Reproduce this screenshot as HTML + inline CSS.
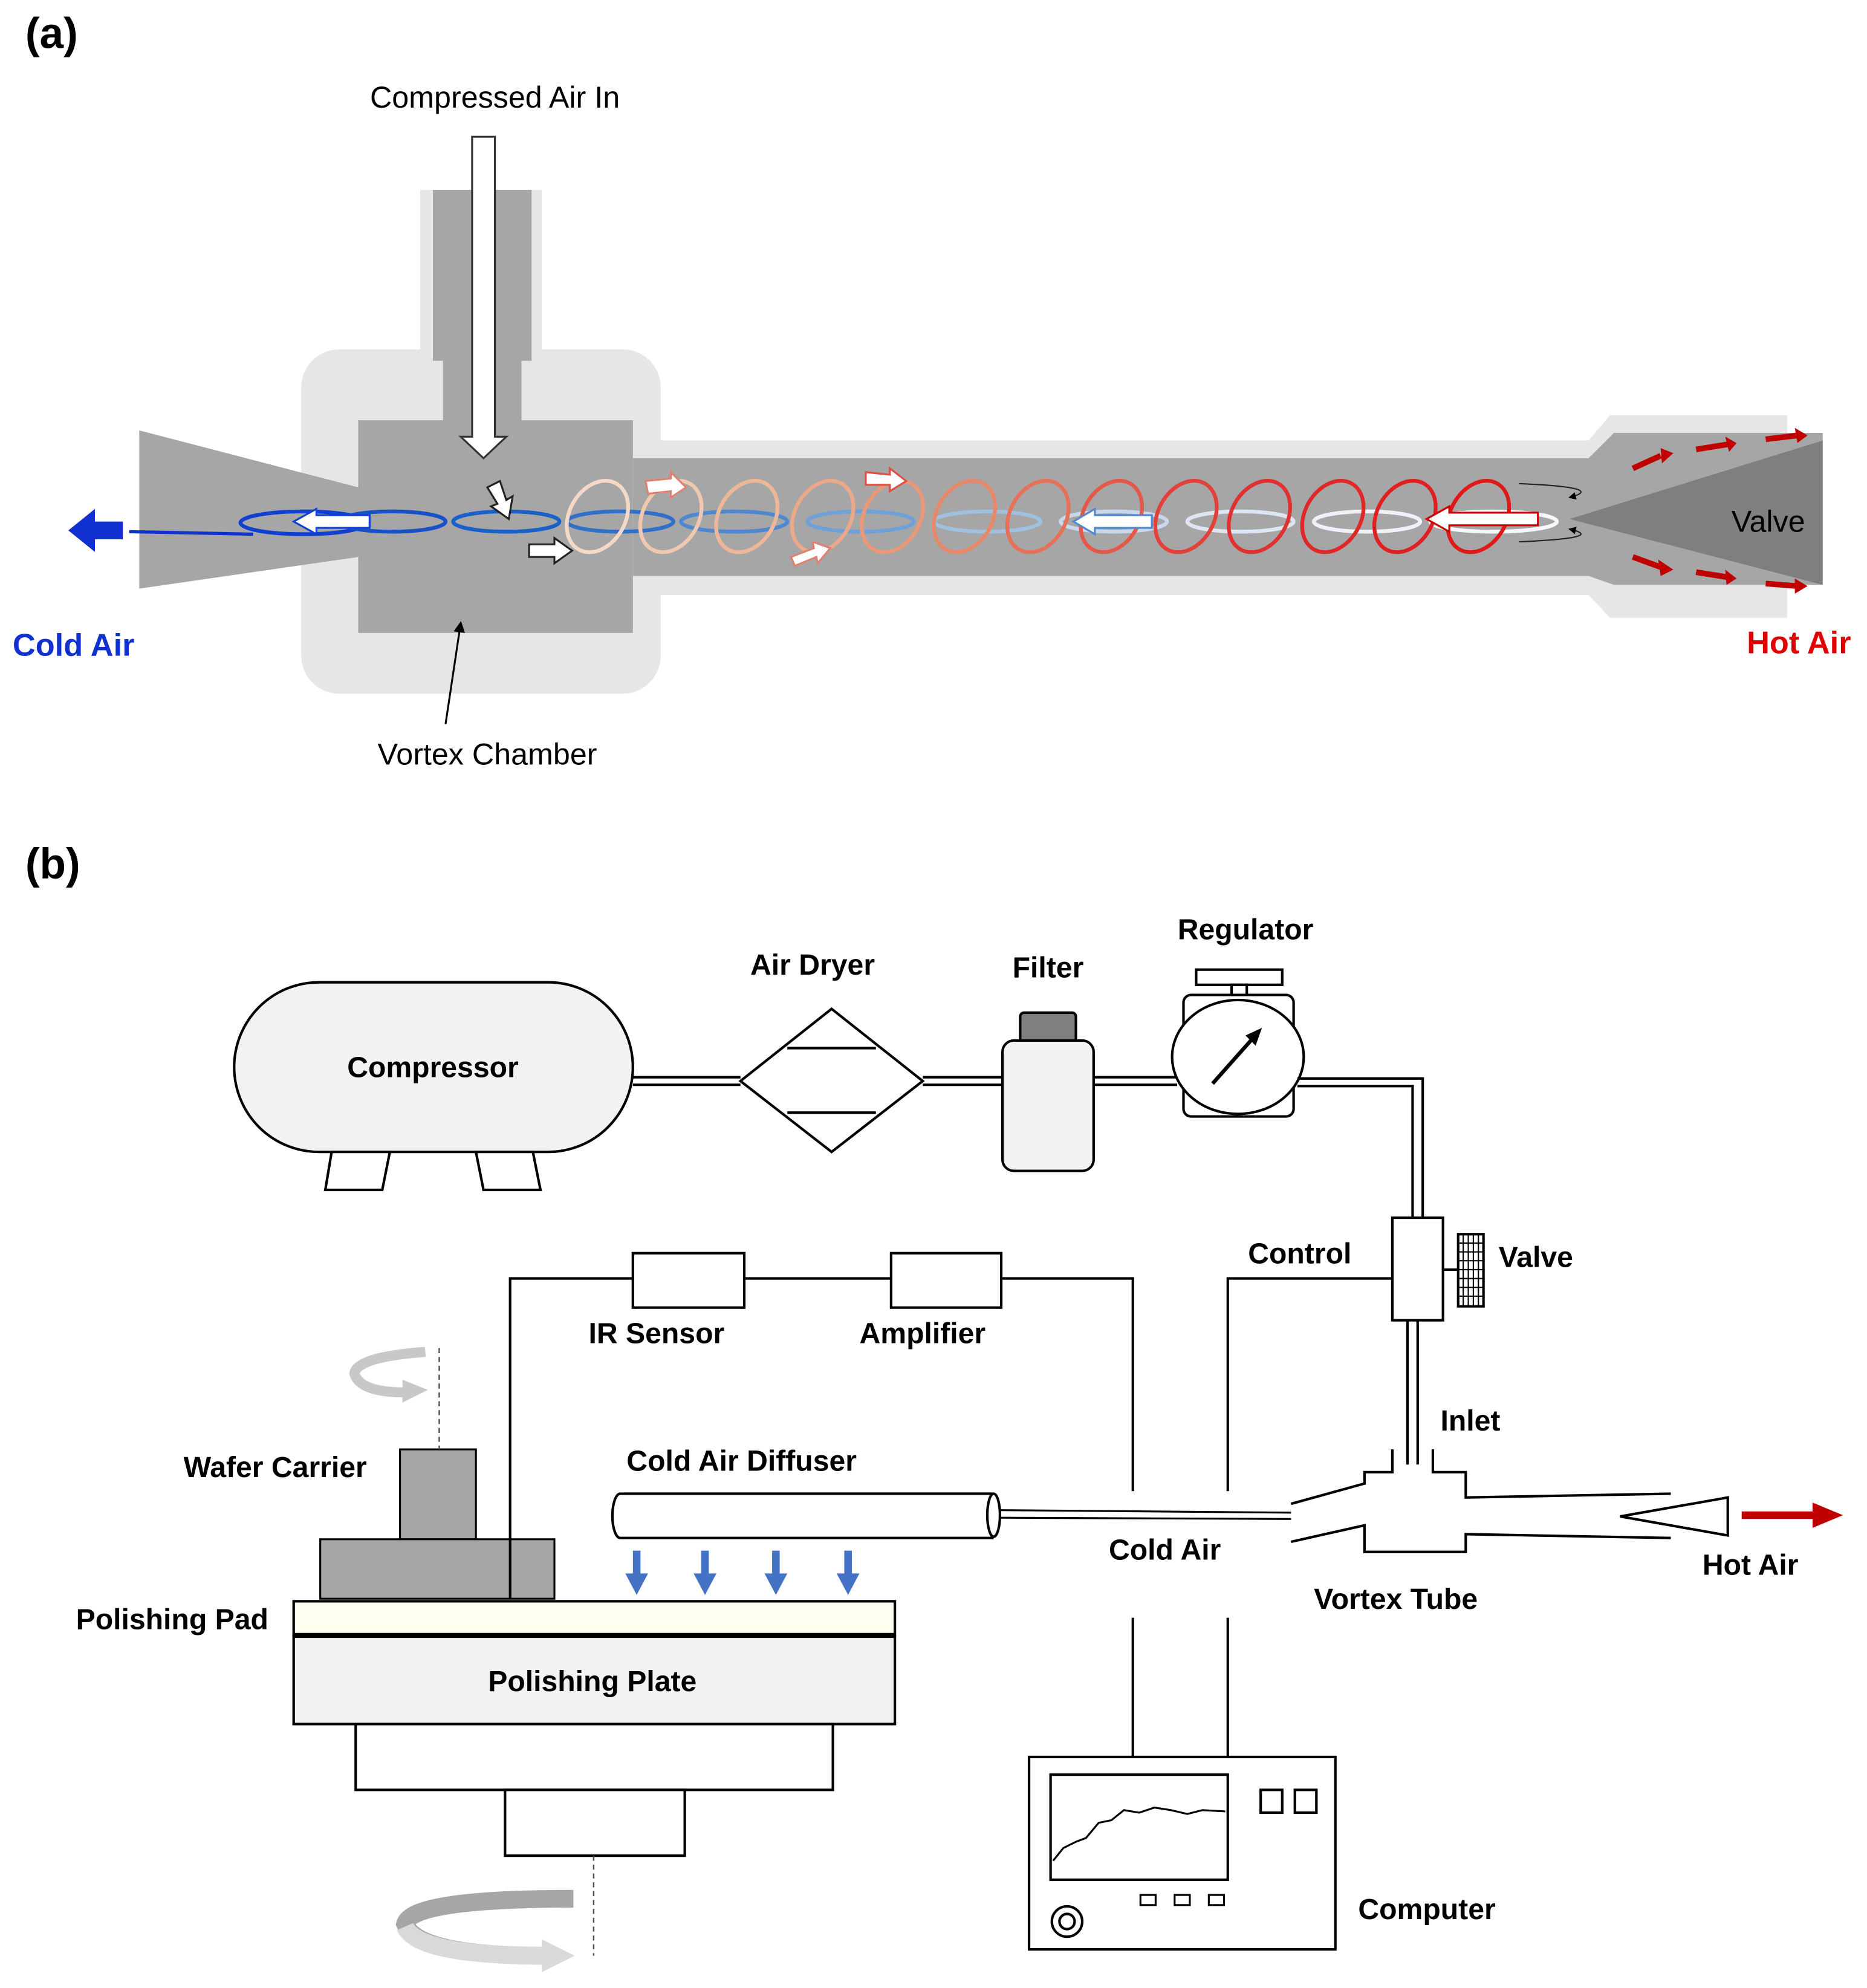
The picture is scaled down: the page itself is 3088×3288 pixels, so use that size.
<!DOCTYPE html>
<html><head><meta charset="utf-8"><style>html,body{margin:0;padding:0;background:#fff}svg{display:block}</style></head><body>
<svg width="3088" height="3288" viewBox="0 0 1475 1570.5" xmlns="http://www.w3.org/2000/svg" font-family="Liberation Sans, Arial, sans-serif">
<defs>
<marker id="ah" markerWidth="6" markerHeight="6" refX="5" refY="3" orient="auto"><path d="M0,0 L6,3 L0,6 z" fill="#000"/></marker>
<marker id="ah2" markerWidth="4" markerHeight="4" refX="3" refY="2" orient="auto"><path d="M0,0 L4,2 L0,4 z" fill="#000"/></marker>
</defs>
<!-- (a) -->
<text x="20" y="38" font-size="34" font-weight="bold">(a)</text>
<text x="391" y="85" font-size="24" text-anchor="middle">Compressed Air In</text>
<rect x="332" y="150" width="96" height="140" fill="#e6e6e6"/>
<rect x="238" y="276" width="284" height="272" rx="30" fill="#e6e6e6"/>
<rect x="500" y="348" width="760" height="122" fill="#e6e6e6"/>
<polygon points="1255,348 1272,328 1412,328 1412,488 1272,488 1255,470" fill="#e6e6e6"/>
<rect x="342" y="150" width="78" height="135" fill="#a6a6a6"/>
<rect x="350" y="280" width="62" height="55" fill="#a6a6a6"/>
<rect x="283" y="332" width="217" height="168" fill="#a6a6a6"/>
<polygon points="110,340 283,385 283,440 110,465" fill="#a6a6a6"/>
<rect x="500" y="362" width="760" height="93" fill="#a6a6a6"/>
<polygon points="1255,362 1275,342 1440,342 1440,462 1275,462 1255,455" fill="#a6a6a6"/>
<polygon points="1240,410 1440,348 1440,462" fill="#7f7f7f"/>
<text x="1397" y="420" font-size="24" text-anchor="middle">Valve</text>
<polygon points="373,108 391,108 391,345 400,345 382,362 364,345 373,345" fill="#fff" stroke="#333" stroke-width="1.5"/>
<path d="M102,420 L200,422" stroke="#1030d0" stroke-width="2.5" fill="none"/>
<g fill="none" stroke-width="3">
<ellipse cx="240" cy="413" rx="50" ry="9" stroke="#1040d0"/>
<ellipse cx="310" cy="412" rx="42" ry="8" stroke="#1850c8"/>
<ellipse cx="400" cy="412" rx="42" ry="8" stroke="#1a60c8"/>
<ellipse cx="490" cy="412" rx="42" ry="8" stroke="#3070c8"/>
<ellipse cx="580" cy="412" rx="42" ry="8" stroke="#5088d0"/>
<ellipse cx="680" cy="412" rx="42" ry="8" stroke="#70a0d8"/>
<ellipse cx="780" cy="412" rx="42" ry="8" stroke="#a0c0e0"/>
<ellipse cx="880" cy="412" rx="42" ry="8" stroke="#c8d8ec"/>
<ellipse cx="980" cy="412" rx="42" ry="8" stroke="#dde6f2"/>
<ellipse cx="1080" cy="412" rx="42" ry="8" stroke="#eef2f8"/>
<ellipse cx="1180" cy="412" rx="50" ry="8" stroke="#f6f8fb"/>
</g>
<g fill="none" stroke-width="3">
<ellipse cx="472" cy="408" rx="22" ry="30" transform="rotate(30 472 408)" stroke="#f4d8c8"/>
<ellipse cx="530" cy="408" rx="22" ry="30" transform="rotate(30 530 408)" stroke="#f0c8b0"/>
<ellipse cx="590" cy="408" rx="22" ry="30" transform="rotate(30 590 408)" stroke="#eeb898"/>
<ellipse cx="650" cy="408" rx="22" ry="30" transform="rotate(30 650 408)" stroke="#eca888"/>
<ellipse cx="705" cy="408" rx="22" ry="30" transform="rotate(30 705 408)" stroke="#ea9878"/>
<ellipse cx="762" cy="408" rx="22" ry="30" transform="rotate(30 762 408)" stroke="#e88868"/>
<ellipse cx="820" cy="408" rx="22" ry="30" transform="rotate(30 820 408)" stroke="#e67058"/>
<ellipse cx="878" cy="408" rx="22" ry="30" transform="rotate(30 878 408)" stroke="#e45848"/>
<ellipse cx="937" cy="408" rx="22" ry="30" transform="rotate(30 937 408)" stroke="#e24038"/>
<ellipse cx="995" cy="408" rx="22" ry="30" transform="rotate(30 995 408)" stroke="#e03030"/>
<ellipse cx="1053" cy="408" rx="22" ry="30" transform="rotate(30 1053 408)" stroke="#e02828"/>
<ellipse cx="1110" cy="408" rx="22" ry="30" transform="rotate(30 1110 408)" stroke="#e02020"/>
<ellipse cx="1168" cy="408" rx="22" ry="30" transform="rotate(30 1168 408)" stroke="#e01818"/>
</g>
<path d="M1200,382 Q1270,385 1240,393" stroke="#222" fill="none" stroke-width="1" marker-end="url(#ah)"/>
<path d="M1200,428 Q1270,425 1240,418" stroke="#222" fill="none" stroke-width="1" marker-end="url(#ah)"/>
<polygon points="292,407 250,407 250,402 232,412 250,422 250,417 292,417" fill="#fff" stroke="#1040d0" stroke-width="1.5"/>
<polygon points="910,407 865,407 865,402 848,412 865,422 865,417 910,417" fill="#fff" stroke="#5088d0" stroke-width="1.5"/>
<polygon points="1215,405 1145,405 1145,400 1127,410 1145,420 1145,415 1215,415" fill="#fff" stroke="#c00" stroke-width="1.5"/>
<polygon points="385,385 395,380 400,395 405,392 402,410 388,400 393,398" fill="#fff" stroke="#222" stroke-width="1.5"/>
<polygon points="418,430 438,430 438,425 452,435 438,445 438,440 418,440" fill="#fff" stroke="#222" stroke-width="1.5"/>
<polygon points="510,380 530,378 530,373 542,385 530,393 530,388 512,390" fill="#fff" stroke="#e08070" stroke-width="1.5"/>
<polygon points="625,440 643,433 642,428 656,433 646,445 645,440 628,447" fill="#fff" stroke="#e08070" stroke-width="1.5"/>
<polygon points="684,373 703,375 703,370 716,380 703,388 703,383 684,383" fill="#fff" stroke="#e05040" stroke-width="1.5"/>
<polygon points="97,412 75,412 75,402 54,419 75,436 75,426 97,426" fill="#1030d0"/>
<text x="10" y="518" font-size="25" font-weight="bold" fill="#1030d0">Cold Air</text>
<g stroke="#c00000" stroke-width="4.5" fill="#c00000">
<line x1="1290" y1="370" x2="1312" y2="360"/><line x1="1340" y1="355" x2="1365" y2="351"/><line x1="1395" y1="347" x2="1420" y2="344"/>
<line x1="1290" y1="440" x2="1312" y2="448"/><line x1="1340" y1="452" x2="1365" y2="456"/><line x1="1395" y1="461" x2="1420" y2="463"/>
</g>
<polygon points="1312,354 1322,358 1313,366" fill="#c00000"/>
<polygon points="1363,345 1372,350 1366,357" fill="#c00000"/>
<polygon points="1418,338 1428,344 1420,350" fill="#c00000"/>
<polygon points="1310,442 1322,450 1312,455" fill="#c00000"/>
<polygon points="1363,450 1372,457 1364,462" fill="#c00000"/>
<polygon points="1418,457 1428,463 1418,469" fill="#c00000"/>
<text x="1380" y="516" font-size="25" font-weight="bold" fill="#e00000">Hot Air</text>
<line x1="352" y1="572" x2="364" y2="492" stroke="#000" stroke-width="1.5" marker-end="url(#ah)"/>
<text x="385" y="604" font-size="24" text-anchor="middle">Vortex Chamber</text>

<!-- (b) -->
<text x="20" y="694" font-size="34" font-weight="bold">(b)</text>
<g stroke="#000" stroke-width="2" fill="none">
<rect x="185" y="776" width="315" height="134" rx="67" fill="#f2f2f2"/>
<polygon points="262,910 308,910 302,940 257,940" fill="#fff"/>
<polygon points="376,910 421,910 427,940 382,940" fill="#fff"/>
<line x1="500" y1="851" x2="585" y2="851"/><line x1="500" y1="857" x2="585" y2="857"/>
<polygon points="657,797 729,854 657,910 585,854" fill="#fff"/>
<line x1="622" y1="828" x2="692" y2="828"/><line x1="622" y1="879" x2="692" y2="879"/>
<line x1="729" y1="851" x2="792" y2="851"/><line x1="729" y1="857" x2="792" y2="857"/>
<rect x="806" y="800" width="44" height="24" rx="3" fill="#7f7f7f"/>
<rect x="792" y="822" width="72" height="103" rx="9" fill="#f2f2f2"/>
<line x1="864" y1="851" x2="930" y2="851"/><line x1="864" y1="857" x2="930" y2="857"/>
<rect x="945" y="766" width="68" height="12" fill="#fff"/>
<rect x="973" y="778" width="12" height="10" fill="#fff"/>
<rect x="935" y="786" width="87" height="96" rx="6" fill="#fff"/>
<ellipse cx="978" cy="835" rx="52" ry="45" fill="#fff"/>
<line x1="958" y1="856" x2="990" y2="820" stroke-width="3"/>
<polygon points="997,812 984,818 992,826" fill="#000" stroke="none"/>
<path d="M1025,852 L1124,852 L1124,962 M1025,858 L1116,858 L1116,962"/>
<rect x="1100" y="962" width="40" height="81" fill="#fff"/>
<rect x="1152" y="975" width="20" height="57" fill="#fff"/>
<path d="M1156,975 V1032 M1160,975 V1032 M1164,975 V1032 M1168,975 V1032 M1152,982 H1172 M1152,989 H1172 M1152,996 H1172 M1152,1003 H1172 M1152,1010 H1172 M1152,1017 H1172 M1152,1024 H1172" stroke-width="1"/>
<line x1="1140" y1="1003" x2="1152" y2="1003"/>
<path d="M1112,1043 V1157 M1120,1043 V1157"/>
<path d="M1100,1010 H970 V1178 M970,1278 V1388 M895,1278 V1388"/>
<path d="M403,1263 V1010 H500 M588,1010 H704 M791,1010 H895 V1178"/>
<rect x="500" y="990" width="88" height="43" fill="#fff"/>
<rect x="704" y="990" width="87" height="43" fill="#fff"/>
<path d="M1020,1188 L1078,1172 L1078,1163 L1100,1163 L1100,1145 M1132,1145 L1132,1163 L1158,1163 L1158,1183 L1320,1180"/>
<path d="M1020,1218 L1078,1205 L1078,1226 L1158,1226 L1158,1212 L1320,1215"/>
<polygon points="1280,1198 1365,1183 1365,1213" fill="#fff"/>
<path d="M785,1180 H490 A6,17 0 0 0 490,1215 H785" fill="#fff"/>
<ellipse cx="785" cy="1197" rx="5" ry="17" fill="#fff"/>
<path d="M790,1193 L1020,1195 M790,1199 L1020,1200" stroke-width="1.5"/>
<rect x="813" y="1388" width="242" height="152" fill="#fff"/>
<rect x="830" y="1402" width="140" height="83"/>
<path d="M832,1470 L840,1460 L850,1455 L858,1452 L868,1440 L878,1438 L888,1430 L900,1432 L912,1428 L925,1430 L938,1433 L950,1430 L968,1431" stroke-width="1.5"/>
<rect x="996" y="1414" width="17" height="18"/><rect x="1023" y="1414" width="17" height="18"/>
<rect x="901" y="1497" width="12" height="8" stroke-width="1.5"/><rect x="928" y="1497" width="12" height="8" stroke-width="1.5"/><rect x="955" y="1497" width="12" height="8" stroke-width="1.5"/>
<circle cx="843" cy="1518" r="12"/><circle cx="843" cy="1518" r="6"/>
<rect x="232" y="1265" width="475" height="27" fill="#fffff0"/>
<rect x="232" y="1292" width="475" height="70" fill="#f2f2f2"/>
<line x1="232" y1="1292" x2="707" y2="1292" stroke-width="4"/>
<rect x="281" y="1362" width="377" height="52" fill="#fff"/>
<rect x="399" y="1414" width="142" height="52" fill="#fff"/>
</g>
<rect x="316" y="1145" width="60" height="71" fill="#a6a6a6" stroke="#000" stroke-width="1.5"/>
<rect x="253" y="1216" width="185" height="47" fill="#a6a6a6" stroke="#000" stroke-width="1.5"/>
<line x1="403" y1="1216" x2="403" y2="1263" stroke="#000" stroke-width="2"/>
<line x1="347" y1="1065" x2="347" y2="1145" stroke="#555" stroke-width="1.2" stroke-dasharray="4,3"/>
<line x1="469" y1="1466" x2="469" y2="1545" stroke="#555" stroke-width="1.2" stroke-dasharray="4,3"/>
<path d="M336,1068 Q282,1072 280,1085 Q284,1100 320,1100" stroke="#c8c8c8" stroke-width="8" fill="none"/>
<polygon points="318,1090 338,1098 318,1108" fill="#c8c8c8"/>
<path d="M453,1500 Q325,1500 320,1520 Q330,1545 430,1545" stroke="#a6a6a6" stroke-width="14" fill="none"/>
<path d="M320,1522 Q330,1545 430,1545" stroke="#d9d9d9" stroke-width="14" fill="none"/>
<polygon points="428,1532 454,1545 428,1558" fill="#d9d9d9"/>
<g fill="#4472c4">
<rect x="500" y="1225" width="6" height="22"/><polygon points="494,1243 512,1243 503,1260"/>
<rect x="554" y="1225" width="6" height="22"/><polygon points="548,1243 566,1243 557,1260"/>
<rect x="610" y="1225" width="6" height="22"/><polygon points="604,1243 622,1243 613,1260"/>
<rect x="667" y="1225" width="6" height="22"/><polygon points="661,1243 679,1243 670,1260"/>
</g>
<rect x="1376" y="1194" width="60" height="6" fill="#c00000"/>
<polygon points="1432,1187 1456,1197 1432,1207" fill="#c00000"/>
<g font-size="23" font-weight="bold">
<text x="642" y="770" text-anchor="middle">Air Dryer</text>
<text x="828" y="772" text-anchor="middle">Filter</text>
<text x="984" y="742" text-anchor="middle">Regulator</text>
<text x="342" y="851" text-anchor="middle">Compressor</text>
<text x="986" y="998">Control</text>
<text x="1184" y="1001">Valve</text>
<text x="465" y="1061">IR Sensor</text>
<text x="679" y="1061">Amplifier</text>
<text x="1138" y="1130">Inlet</text>
<text x="145" y="1167">Wafer Carrier</text>
<text x="495" y="1162">Cold Air Diffuser</text>
<text x="876" y="1232">Cold Air</text>
<text x="1345" y="1244">Hot Air</text>
<text x="1038" y="1271">Vortex Tube</text>
<text x="60" y="1287">Polishing Pad</text>
<text x="468" y="1336" text-anchor="middle">Polishing Plate</text>
<text x="1073" y="1516">Computer</text>
</g>
</svg>
</body></html>
